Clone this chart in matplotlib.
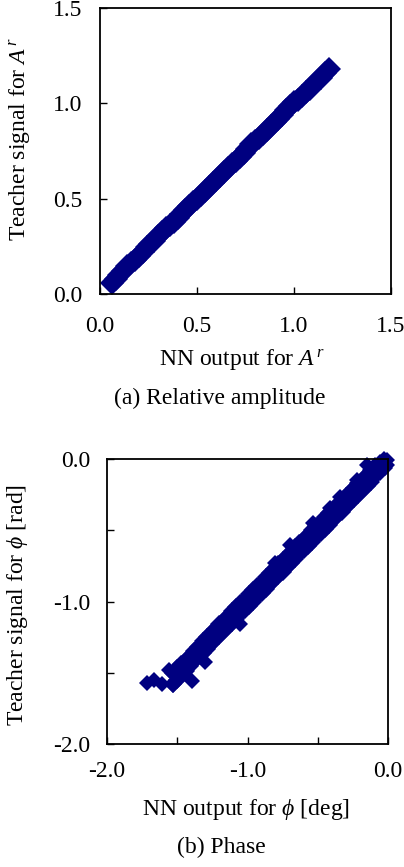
import matplotlib
matplotlib.use("Agg")
import matplotlib.pyplot as plt

plt.rcParams['font.family'] = ['Liberation Serif', 'DejaVu Serif']
plt.rcParams['mathtext.fontset'] = 'custom'
plt.rcParams['mathtext.rm'] = 'Liberation Serif'
plt.rcParams['mathtext.it'] = 'Liberation Serif:italic'

# (a) relative amplitude, read along the band
amp_nn = [0.06, 0.08, 0.10, 0.12, 0.14, 0.16, 0.18, 0.20, 0.22, 0.24,
          0.26, 0.28, 0.30, 0.32, 0.34, 0.36, 0.38, 0.40, 0.42, 0.44,
          0.46, 0.48, 0.50, 0.52, 0.54, 0.56, 0.58, 0.60, 0.62, 0.64,
          0.66, 0.68, 0.70, 0.72, 0.74, 0.76, 0.78, 0.80, 0.82, 0.84,
          0.86, 0.88, 0.90, 0.92, 0.94, 0.96, 0.98, 1.00, 1.02, 1.04,
          1.06, 1.08, 1.10, 1.12, 1.14, 1.16, 1.18]
amp_teacher = [0.06, 0.08, 0.10, 0.12, 0.145, 0.165, 0.18, 0.20, 0.22, 0.245,
               0.26, 0.28, 0.305, 0.325, 0.345, 0.36, 0.38, 0.40, 0.42, 0.44,
               0.46, 0.48, 0.50, 0.52, 0.54, 0.56, 0.58, 0.60, 0.62, 0.64,
               0.66, 0.68, 0.70, 0.72, 0.74, 0.76, 0.785, 0.805, 0.82, 0.84,
               0.86, 0.88, 0.90, 0.92, 0.94, 0.965, 0.985, 1.005, 1.02, 1.04,
               1.06, 1.075, 1.095, 1.115, 1.135, 1.16, 1.18]

# (b) phase, upper and lower edge of the band
phase_nn = [-1.53, -1.50, -1.47, -1.44, -1.41, -1.38, -1.35, -1.32, -1.29, -1.26,
            -1.23, -1.20, -1.17, -1.14, -1.11, -1.08, -1.05, -1.02, -0.99, -0.96,
            -0.93, -0.90, -0.87, -0.84, -0.81, -0.78, -0.75, -0.72, -0.69, -0.66,
            -0.63, -0.60, -0.57, -0.54, -0.51, -0.48, -0.45, -0.42, -0.39, -0.36,
            -0.33, -0.30, -0.27, -0.24, -0.21, -0.18, -0.15, -0.12, -0.09, -0.06,
            -0.03]
phase_teacher_hi = [-1.50, -1.47, -1.44, -1.41, -1.38, -1.35, -1.32, -1.28, -1.25, -1.22,
                    -1.19, -1.16, -1.13, -1.10, -1.07, -1.04, -1.01, -0.98, -0.95, -0.92,
                    -0.89, -0.86, -0.83, -0.80, -0.77, -0.74, -0.71, -0.68, -0.65, -0.62,
                    -0.59, -0.56, -0.53, -0.50, -0.47, -0.44, -0.41, -0.38, -0.35, -0.32,
                    -0.29, -0.26, -0.23, -0.20, -0.17, -0.14, -0.11, -0.08, -0.05, -0.03,
                    -0.01]
phase_teacher_lo = [-1.58, -1.55, -1.52, -1.49, -1.45, -1.42, -1.39, -1.36, -1.33, -1.30,
                    -1.27, -1.24, -1.21, -1.18, -1.15, -1.12, -1.09, -1.06, -1.03, -1.00,
                    -0.97, -0.94, -0.91, -0.88, -0.85, -0.82, -0.79, -0.76, -0.73, -0.70,
                    -0.67, -0.64, -0.61, -0.58, -0.55, -0.52, -0.49, -0.46, -0.43, -0.40,
                    -0.37, -0.34, -0.31, -0.28, -0.25, -0.22, -0.19, -0.16, -0.12, -0.09,
                    -0.05]
# scattered points off the band
out_nn = [-1.717, -1.665, -1.610, -1.560, -1.528, -1.397, -1.300, -1.053,
          -0.804, -0.698, -0.532, -0.413, -0.342, -0.223, -0.152, -0.010,
          -0.020, -0.005]
out_teacher = [-1.570, -1.550, -1.580, -1.480, -1.586, -1.556, -1.425, -1.160,
               -0.732, -0.604, -0.451, -0.346, -0.264, -0.147, -0.045, -0.005,
               -0.060, -0.040]

navy = "#000080"
fs = 17

fig = plt.figure(figsize=(4.04, 8.67), dpi=100)

# ---- (a) ----
ax1 = fig.add_axes([100 / 404, 1 - 294 / 867, 291 / 404, 286 / 867])
ax1.plot(amp_nn, amp_teacher, "D", color=navy, ms=12.5, mew=0)
ax1.set_xlim(0, 1.5)
ax1.set_ylim(0, 1.5)
ax1.set_xticks([0, 0.5, 1.0, 1.5])
ax1.set_yticks([0, 0.5, 1.0, 1.5])
ax1.set_xticklabels(["0.0", "0.5", "1.0", "1.5"])
ax1.set_yticklabels(["0.0", "0.5", "1.0", "1.5"])
ax1.tick_params(axis="x", direction="in", length=5, width=1, labelsize=fs, pad=15.5)
ax1.tick_params(axis="y", direction="in", length=5, width=1, labelsize=fs, pad=13)
fig.text(242 / 404, 1 - 360 / 867, "NN output for $A^{\\,r}$", ha="center", va="center", fontsize=fs)
fig.text(20 / 404, 1 - 139 / 867, "Teacher signal for $A^{\\,r}$", ha="center", va="center",
         rotation=90, fontsize=fs)
fig.text(220 / 404, 1 - 398 / 867, "(a) Relative amplitude", ha="center", va="center", fontsize=fs)

# ---- (b) ----
ax2 = fig.add_axes([107 / 404, 1 - 744 / 867, 281 / 404, 285 / 867])
ax2.plot(phase_nn, phase_teacher_hi, "D", color=navy, ms=9, mew=0)
ax2.plot(phase_nn, phase_teacher_lo, "D", color=navy, ms=9, mew=0)
ax2.plot(out_nn, out_teacher, "D", color=navy, ms=8.5, mew=0)
ax2.set_xlim(-2, 0)
ax2.set_ylim(-2, 0)
ax2.set_xticks([-2, -1.5, -1, -0.5, 0])
ax2.set_yticks([-2, -1.5, -1, -0.5, 0])
ax2.set_xticklabels(["-2.0", "", "-1.0", "", "0.0"])
ax2.set_yticklabels(["-2.0", "", "-1.0", "", "0.0"])
ax2.tick_params(axis="x", direction="in", length=5, width=1, labelsize=fs, pad=12.5)
ax2.tick_params(axis="y", direction="in", length=5, width=1, labelsize=fs, pad=12)
fig.text(246 / 404, 1 - 810 / 867, "NN output for $\\phi$ [deg]", ha="center", va="center", fontsize=fs)
fig.text(18 / 404, 1 - 605 / 867, "Teacher signal for $\\phi$ [rad]", ha="center", va="center",
         rotation=90, fontsize=fs)
fig.text(221 / 404, 1 - 847 / 867, "(b) Phase", ha="center", va="center", fontsize=fs)

for ax in (ax1, ax2):
    for sp in ax.spines.values():
        sp.set_linewidth(1.3)

for line in ax1.lines + ax2.lines:
    line.set_clip_on(False)

fig.savefig("out.png", dpi=100)
